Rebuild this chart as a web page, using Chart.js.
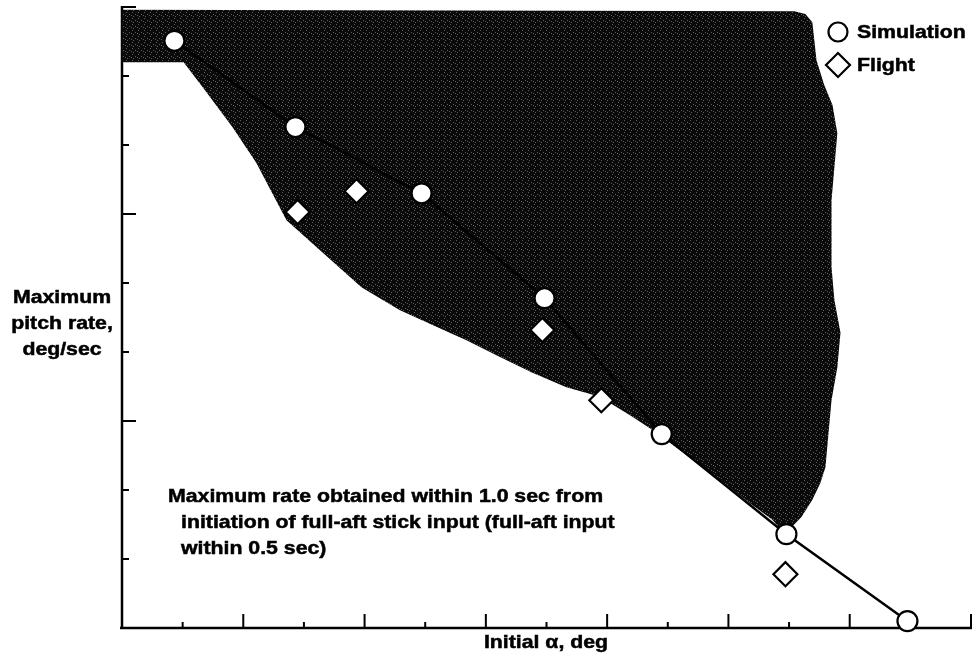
<!DOCTYPE html>
<html>
<head>
<meta charset="utf-8">
<script src="https://cdn.jsdelivr.net/npm/chart.js@4.4.0/dist/chart.umd.min.js"></script>
<style>
html,body{margin:0;padding:0;background:#fff;}
#c{display:block;}
</style>
</head>
<body>
<canvas id="c" width="974" height="657"></canvas>
<script>
// simulation (circles, joined by a line)
const simAlpha = [2.16, 7.15, 12.35, 17.42, 22.25, 27.39, 32.38];
const simRate  = [8.51, 7.26, 6.30, 4.78, 2.81, 1.36, 0.10];
// flight (diamonds)
const fltAlpha = [7.24, 9.67, 17.33, 19.76, 27.35];
const fltRate  = [6.03, 6.33, 4.32, 3.30, 0.78];
// shaded envelope outline (closed)
const bandAlpha = [0, 27.72, 28.17, 28.46, 28.63, 28.95, 29.29, 29.49, 29.37, 29.25, 29.25, 29.37, 29.62, 29.49, 29.25,
  29.12, 29.0, 28.79, 28.46, 28.01, 27.60, 27.18, 26.81, 25.87, 24.50, 23.10, 21.87, 21.04, 19.70, 18.32,
  16.92, 15.56, 14.20, 12.80, 11.44, 9.87, 8.97, 6.78, 5.54, 4.55, 3.32, 2.54, 0, 0];
const bandRate = [8.96, 8.94, 8.90, 8.78, 8.23, 7.87, 7.58, 7.17, 6.68, 6.20, 5.23, 4.75, 4.28, 3.78, 3.30,
  2.80, 2.33, 2.10, 1.86, 1.61, 1.46, 1.42, 1.57, 1.81, 2.19, 2.55, 2.87, 3.06, 3.35, 3.49,
  3.70, 3.93, 4.17, 4.39, 4.61, 4.94, 5.22, 5.91, 6.74, 7.26, 7.84, 8.20, 8.20, 8.96];
// axes (no tick labels on the original)
const xMin = 0, xMax = 35, xStep = 2.5, xMajor = 5;
const yMin = 0, yMax = 9, yStep = 1, yMajor = 3;

const yTitle = ['Maximum', 'pitch rate,', 'deg/sec'];
const xTitle = 'Initial \u03b1, deg';
const note = ['Maximum rate obtained within 1.0 sec from', 'initiation of full-aft stick input (full-aft input', 'within 0.5 sec)'];
const legendNames = ['Simulation', 'Flight'];

const FONT = "bold 18.5px 'Liberation Sans', Arial, sans-serif";
const SX = 1.15;

const pts = (xs, ys) => xs.map((x, i) => ({x, y: ys[i]}));

const canvas = document.getElementById('c');
const ctx0 = canvas.getContext('2d');

function stipple() {
  const p = document.createElement('canvas');
  p.width = 6; p.height = 6;
  const g = p.getContext('2d');
  g.fillStyle = '#0a0a0a'; g.fillRect(0, 0, 6, 6);
  g.fillStyle = '#5e5e5e';
  [[0,0],[3,2],[1,4],[5,3]].forEach(([a,b]) => g.fillRect(a, b, 1, 1));
  return ctx0.createPattern(p, 'repeat');
}

function txt(ctx, s, x, y, align) {
  ctx.save();
  ctx.translate(x, y);
  ctx.scale(SX, 1);
  ctx.textAlign = align || 'left';
  ctx.fillText(s, 0, 0);
  ctx.strokeText(s, 0, 0);
  ctx.restore();
}
function circ(ctx, x, y, r) {
  ctx.beginPath(); ctx.arc(x, y, r, 0, Math.PI*2);
  ctx.fillStyle = '#fff'; ctx.fill(); ctx.stroke();
}
function diam(ctx, x, y, r) {
  ctx.beginPath(); ctx.moveTo(x, y-r); ctx.lineTo(x+r, y); ctx.lineTo(x, y+r); ctx.lineTo(x-r, y); ctx.closePath();
  ctx.fillStyle = '#fff'; ctx.fill(); ctx.stroke();
}

const axesPlugin = {
  id: 'axesPlugin',
  beforeDatasetsDraw(chart) {
    const {ctx, scales: {x, y}} = chart;
    const x0 = x.getPixelForValue(xMin), x1 = x.getPixelForValue(xMax);
    const y0 = y.getPixelForValue(yMin), y1 = y.getPixelForValue(yMax);
    ctx.save();
    ctx.strokeStyle = '#000';
    ctx.lineWidth = 2.5;
    ctx.beginPath();
    ctx.moveTo(x0 - 2, y0); ctx.lineTo(x1 + 1, y0);
    ctx.moveTo(x0, y0 + 1); ctx.lineTo(x0, y1 - 1);
    ctx.stroke();
    ctx.lineWidth = 2;
    ctx.beginPath();
    for (let v = xMin + xStep; v <= xMax + 1e-6; v += xStep) {
      const px = x.getPixelForValue(v);
      const len = Math.abs(v / xMajor - Math.round(v / xMajor)) < 1e-6 ? 14 : 6;
      ctx.moveTo(px, y0); ctx.lineTo(px, y0 - len);
    }
    for (let v = yMin + yStep; v <= yMax + 1e-6; v += yStep) {
      const py = y.getPixelForValue(v);
      const len = Math.abs(v / yMajor - Math.round(v / yMajor)) < 1e-6 ? 14 : 7;
      ctx.moveTo(x0, py); ctx.lineTo(x0 + len, py);
    }
    ctx.stroke();
    ctx.restore();
  },
  afterDraw(chart) {
    const {ctx} = chart;
    ctx.save();
    ctx.fillStyle = '#000';
    ctx.strokeStyle = '#000';
    ctx.lineWidth = 0.5;
    ctx.font = FONT;
    ctx.textBaseline = 'alphabetic';
    yTitle.forEach((s, i) => txt(ctx, s, 62, 303 + i * 26, 'center'));
    txt(ctx, xTitle, 546, 648, 'center');
    txt(ctx, note[0], 168, 502);
    txt(ctx, note[1], 181, 528);
    txt(ctx, note[2], 181, 554);
    // legend
    ctx.lineWidth = 2.2;
    circ(ctx, 838, 32, 9.5);
    diam(ctx, 838, 65, 12);
    ctx.fillStyle = '#000';
    ctx.lineWidth = 0.5;
    ctx.textBaseline = 'middle';
    txt(ctx, legendNames[0], 857, 33);
    txt(ctx, legendNames[1], 857, 66);
    ctx.restore();
  }
};

new Chart(canvas, {
  type: 'scatter',
  data: {
    datasets: [
      {
        label: legendNames[0],
        data: pts(simAlpha, simRate),
        showLine: true,
        borderColor: '#000',
        borderWidth: 2.5,
        pointStyle: 'circle',
        pointRadius: 10,
        pointBorderWidth: 2.2,
        pointBackgroundColor: '#fff',
        pointBorderColor: '#000',
        clip: false,
        order: 1
      },
      {
        label: legendNames[1],
        data: pts(fltAlpha, fltRate),
        pointStyle: 'rectRot',
        pointRadius: 12,
        pointBorderWidth: 2.2,
        pointBackgroundColor: '#fff',
        pointBorderColor: '#000',
        clip: false,
        order: 0
      },
      {
        label: 'envelope',
        data: pts(bandAlpha, bandRate),
        showLine: true,
        fill: 'shape',
        backgroundColor: stipple(),
        borderWidth: 0,
        borderColor: 'rgba(0,0,0,0)',
        pointRadius: 0,
        tension: 0,
        clip: false,
        order: 5
      }
    ]
  },
  options: {
    responsive: false,
    devicePixelRatio: 1,
    animation: false,
    layout: {autoPadding: false, padding: {left: 122, right: 3, top: 7, bottom: 29}},
    plugins: {legend: {display: false}, tooltip: {enabled: false}},
    scales: {
      x: {type: 'linear', min: xMin, max: xMax, display: false, ticks: {stepSize: xStep}},
      y: {type: 'linear', min: yMin, max: yMax, display: false, ticks: {stepSize: yStep}}
    }
  },
  plugins: [axesPlugin]
});
</script>
</body>
</html>
